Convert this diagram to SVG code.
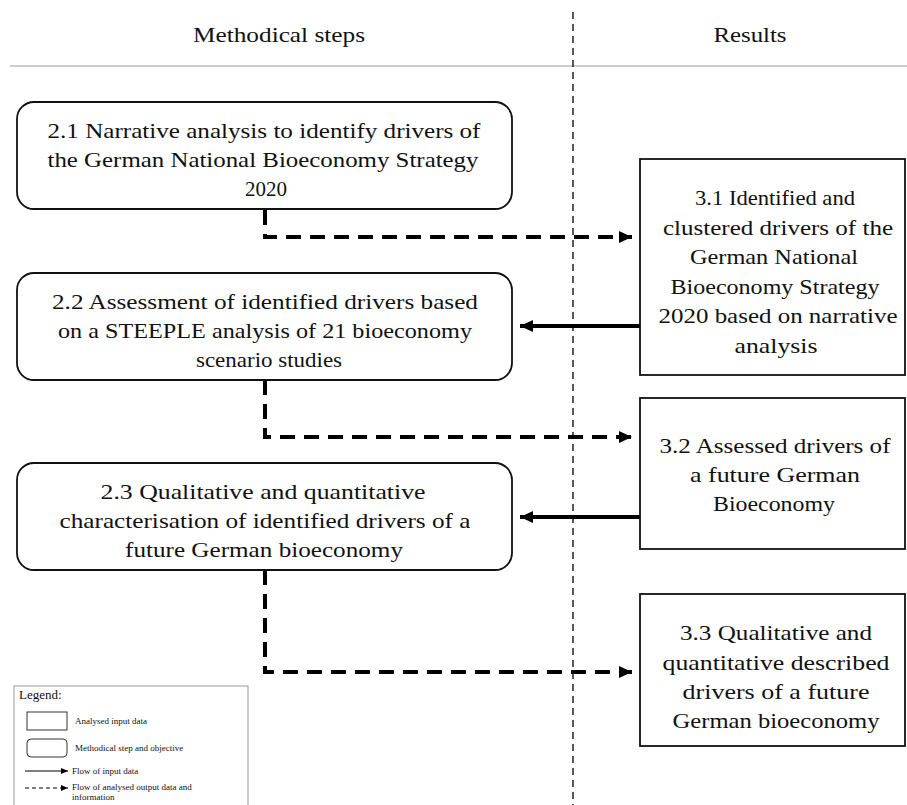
<svg xmlns="http://www.w3.org/2000/svg" width="907" height="805" viewBox="0 0 907 805">
<style>
  text { font-family: "Liberation Serif", "Times New Roman", serif; fill: #111; }
  .hd { font-size: 22px; text-anchor: middle; }
  .bt { font-size: 22px; text-anchor: middle; }
  .step { fill: #fff; stroke: #111; stroke-width: 1.8; }
  .res { fill: #fff; stroke: #111; stroke-width: 1.8; }
  .dash { fill: none; stroke: #000; stroke-width: 4; stroke-dasharray: 15 9; }
  .solid { fill: none; stroke: #000; stroke-width: 4; }
  .lg { font-size: 9px; }
</style>
<defs>
  <marker id="ah" markerUnits="userSpaceOnUse" markerWidth="14" markerHeight="14" viewBox="0 0 14 14" refX="13" refY="7" orient="auto">
    <path d="M0,1 L13,7 L0,13 Z" fill="#000"/>
  </marker>
  <marker id="ahs" markerUnits="userSpaceOnUse" markerWidth="8" markerHeight="8" viewBox="0 0 8 8" refX="7" refY="4" orient="auto">
    <path d="M0,1 L7,4 L0,7 Z" fill="#000"/>
  </marker>
</defs>

<g id="header">
  <text class="hd" x="279" y="42" textLength="172" lengthAdjust="spacingAndGlyphs">Methodical steps</text>
  <text class="hd" x="750" y="42" textLength="73" lengthAdjust="spacingAndGlyphs">Results</text>
  <line x1="10" y1="66" x2="907" y2="66" stroke="#bdbdbd" stroke-width="1.5"/>
  <line x1="573" y1="12" x2="573" y2="805" stroke="#111" stroke-width="1.4" stroke-dasharray="7 5"/>
</g>

<g id="connectors">
  <path class="dash" d="M265,210 V237 H632" marker-end="url(#ah)"/>
  <path class="dash" d="M265,380 V437 H632" marker-end="url(#ah)"/>
  <path class="dash" d="M265,570 V672 H632" marker-end="url(#ah)"/>
  <path class="solid" d="M640,326 H520" marker-end="url(#ah)"/>
  <path class="solid" d="M640,517 H520" marker-end="url(#ah)"/>
</g>

<g id="n21">
  <rect class="step" x="17" y="102" width="495" height="107" rx="17"/>
  <text class="bt" x="264" y="138" textLength="433" lengthAdjust="spacingAndGlyphs">2.1 Narrative analysis to identify drivers of</text>
  <text class="bt" x="263" y="167" textLength="431" lengthAdjust="spacingAndGlyphs">the German National Bioeconomy Strategy</text>
  <text class="bt" x="266" y="196" textLength="42" lengthAdjust="spacingAndGlyphs">2020</text>
</g>

<g id="n22">
  <rect class="step" x="17" y="273" width="495" height="107" rx="17"/>
  <text class="bt" x="265" y="309" textLength="426" lengthAdjust="spacingAndGlyphs">2.2 Assessment of identified drivers based</text>
  <text class="bt" x="265" y="338" textLength="414" lengthAdjust="spacingAndGlyphs">on a STEEPLE analysis of 21 bioeconomy</text>
  <text class="bt" x="269" y="367" textLength="146" lengthAdjust="spacingAndGlyphs">scenario studies</text>
</g>

<g id="n23">
  <rect class="step" x="17" y="463" width="495" height="107" rx="17"/>
  <text class="bt" x="263" y="499" textLength="325" lengthAdjust="spacingAndGlyphs">2.3 Qualitative and quantitative</text>
  <text class="bt" x="265" y="528" textLength="411" lengthAdjust="spacingAndGlyphs">characterisation of identified drivers of a</text>
  <text class="bt" x="264" y="557" textLength="278" lengthAdjust="spacingAndGlyphs">future German bioeconomy</text>
</g>

<g id="n31">
  <rect class="res" x="640" y="159" width="265" height="216"/>
  <text class="bt" x="775" y="205" textLength="160" lengthAdjust="spacingAndGlyphs">3.1 Identified and</text>
  <text class="bt" x="778" y="235" textLength="230" lengthAdjust="spacingAndGlyphs">clustered drivers of the</text>
  <text class="bt" x="774" y="264" textLength="168" lengthAdjust="spacingAndGlyphs">German National</text>
  <text class="bt" x="775" y="294" textLength="209" lengthAdjust="spacingAndGlyphs">Bioeconomy Strategy</text>
  <text class="bt" x="778" y="323" textLength="239" lengthAdjust="spacingAndGlyphs">2020 based on narrative</text>
  <text class="bt" x="776" y="353" textLength="83" lengthAdjust="spacingAndGlyphs">analysis</text>
</g>

<g id="n32">
  <rect class="res" x="640" y="398" width="265" height="151"/>
  <text class="bt" x="775" y="453" textLength="231" lengthAdjust="spacingAndGlyphs">3.2 Assessed drivers of</text>
  <text class="bt" x="775" y="482" textLength="170" lengthAdjust="spacingAndGlyphs">a future German</text>
  <text class="bt" x="774" y="511" textLength="122" lengthAdjust="spacingAndGlyphs">Bioeconomy</text>
</g>

<g id="n33">
  <rect class="res" x="640" y="594" width="265" height="152"/>
  <text class="bt" x="776" y="640" textLength="192" lengthAdjust="spacingAndGlyphs">3.3 Qualitative and</text>
  <text class="bt" x="776" y="670" textLength="227" lengthAdjust="spacingAndGlyphs">quantitative described</text>
  <text class="bt" x="776" y="699" textLength="187" lengthAdjust="spacingAndGlyphs">drivers of a future</text>
  <text class="bt" x="776" y="728" textLength="207" lengthAdjust="spacingAndGlyphs">German bioeconomy</text>
</g>

<g id="legend">
  <rect x="14" y="686" width="234" height="125" fill="#fff" stroke="#999" stroke-width="1"/>
  <text x="19" y="699" font-size="13">Legend:</text>
  <rect x="27" y="712" width="40" height="18" fill="#fff" stroke="#333" stroke-width="1"/>
  <text class="lg" x="75" y="724">Analysed input data</text>
  <rect x="27" y="739" width="40" height="18" rx="4" fill="#fff" stroke="#333" stroke-width="1"/>
  <text class="lg" x="75" y="751">Methodical step and objective</text>
  <line x1="25" y1="771" x2="68" y2="771" stroke="#000" stroke-width="1.2" marker-end="url(#ahs)"/>
  <text class="lg" x="72" y="774" font-size="8">Flow of input data</text>
  <line x1="25" y1="788" x2="68" y2="788" stroke="#000" stroke-width="1.2" stroke-dasharray="4 3" marker-end="url(#ahs)"/>
  <text class="lg" x="72" y="790" font-size="8">Flow of analysed output data and</text>
  <text class="lg" x="72" y="800" font-size="8">information</text>
</g>
</svg>
